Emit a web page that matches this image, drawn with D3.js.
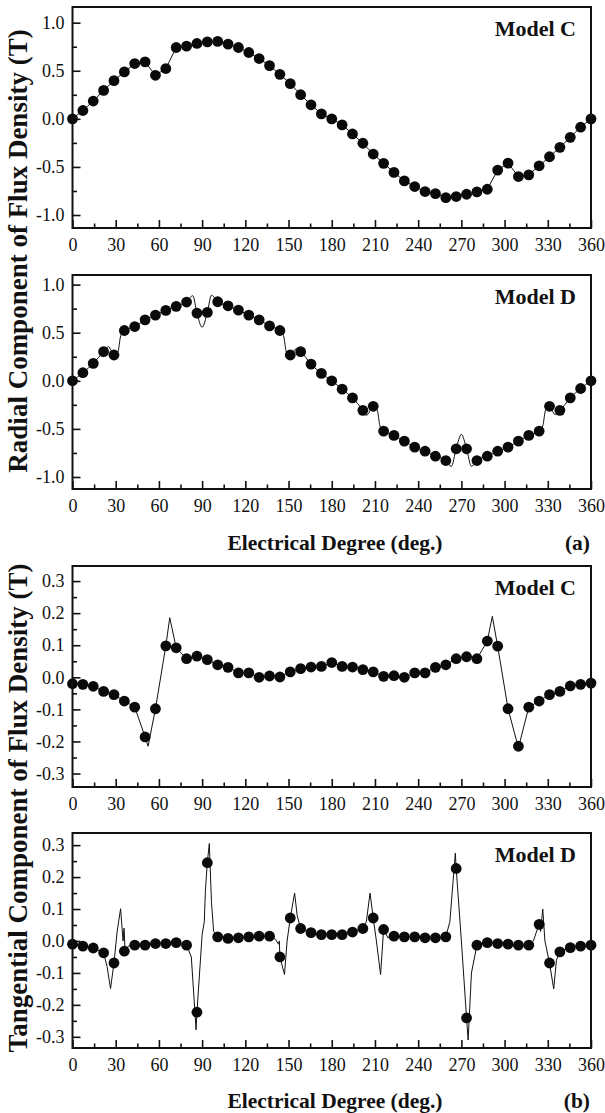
<!DOCTYPE html>
<html>
<head>
<meta charset="utf-8">
<script src="https://cdn.jsdelivr.net/npm/d3@7"></script>
<style>
  body { margin: 0; background: #fff; }
  svg text { font-family: "Liberation Serif", "Times New Roman", "DejaVu Serif", serif; fill: #111; }
</style>
</head>
<body>
<svg id="chart" width="605" height="1113"></svg>
<script>
// ---- data ----
const angles = [0, 7.2, 14.4, 21.6, 28.8, 36, 43.2, 50.4, 57.6, 64.8, 72, 79.2, 86.4, 93.6, 100.8,
  108, 115.2, 122.4, 129.6, 136.8, 144, 151.2, 158.4, 165.6, 172.8, 180, 187.2, 194.4, 201.6,
  208.8, 216, 223.2, 230.4, 237.6, 244.8, 252, 259.2, 266.4, 273.6, 280.8, 288, 295.2, 302.4,
  309.6, 316.8, 324, 331.2, 338.4, 345.6, 352.8, 360];

const xTicks = [0, 30, 60, 90, 120, 150, 180, 210, 240, 270, 300, 330, 360];
const xMinor = [15, 45, 75, 105, 135, 165, 195, 225, 255, 285, 315, 345];
const radialTicks = [-1.0, -0.5, 0.0, 0.5, 1.0];
const radialMinor = [-0.75, -0.25, 0.25, 0.75];
const tanTicks = [-0.3, -0.2, -0.1, 0.0, 0.1, 0.2, 0.3];
const tanMinor = [-0.25, -0.15, -0.05, 0.05, 0.15, 0.25];

// radial, model C (dots)
const radialC = [0, 0.087, 0.185, 0.296, 0.397, 0.488, 0.575, 0.592, 0.453, 0.523, 0.742, 0.756,
  0.784, 0.801, 0.805, 0.777, 0.742, 0.69, 0.627, 0.554, 0.463, 0.366, 0.251, 0.146, 0.052, 0.0,
  -0.063, -0.157, -0.254, -0.366, -0.463, -0.557, -0.645, -0.704, -0.756, -0.777, -0.819, -0.808,
  -0.784, -0.76, -0.732, -0.533, -0.46, -0.6, -0.582, -0.488, -0.394, -0.296, -0.192, -0.087, 0];

// radial, model D (dots)
const radialD = [0, 0.084, 0.181, 0.303, 0.268, 0.523, 0.564, 0.634, 0.683, 0.732, 0.774, 0.819,
  0.704, 0.711, 0.822, 0.78, 0.735, 0.683, 0.634, 0.571, 0.523, 0.268, 0.303, 0.174, 0.077, 0,
  -0.087, -0.178, -0.307, -0.265, -0.523, -0.568, -0.627, -0.69, -0.732, -0.784, -0.829, -0.707,
  -0.707, -0.829, -0.784, -0.732, -0.69, -0.627, -0.568, -0.523, -0.265, -0.307, -0.178, -0.08, 0];

// radial, model D (fine curve)
const radialDLine = [[0, 0], [7.2, 0.084], [14.4, 0.181], [21.6, 0.303], [25, 0.355], [28.8, 0.268],
  [31.5, 0.30], [33.5, 0.47], [36, 0.523], [43.2, 0.564], [50.4, 0.634], [57.6, 0.683], [64.8, 0.732],
  [72, 0.774], [79.2, 0.819], [83.5, 0.885], [86.4, 0.704], [90, 0.557], [93.6, 0.711], [96.5, 0.89],
  [100.8, 0.822], [108, 0.78], [115.2, 0.735], [122.4, 0.683], [129.6, 0.634], [136.8, 0.571],
  [144, 0.523], [146.5, 0.47], [148.5, 0.30], [151.2, 0.268], [155, 0.33], [158.4, 0.303],
  [165.6, 0.174], [172.8, 0.077], [180, 0], [187.2, -0.087], [194.4, -0.178], [201.6, -0.307],
  [204, -0.36], [208.8, -0.265], [211.5, -0.30], [213.5, -0.47], [216, -0.523], [223.2, -0.568],
  [230.4, -0.627], [237.6, -0.69], [244.8, -0.732], [252, -0.784], [259.2, -0.829], [263, -0.89],
  [266.4, -0.707], [270, -0.557], [273.6, -0.707], [277, -0.89], [280.8, -0.829], [288, -0.784],
  [295.2, -0.732], [302.4, -0.69], [309.6, -0.627], [316.8, -0.568], [324, -0.523], [326.5, -0.47],
  [328.5, -0.30], [331.2, -0.265], [335, -0.35], [338.4, -0.307], [345.6, -0.178], [352.8, -0.08],
  [360, 0]];

// tangential, model C (dots)
const tanC = [-0.02, -0.022, -0.028, -0.044, -0.054, -0.074, -0.093, -0.186, -0.098, 0.098, 0.092,
  0.058, 0.066, 0.055, 0.039, 0.031, 0.014, 0.014, 0.0, 0.004, 0.001, 0.017, 0.027, 0.032, 0.034,
  0.046, 0.034, 0.032, 0.024, 0.017, 0.003, 0.005, 0.0, 0.014, 0.014, 0.031, 0.039, 0.058, 0.064,
  0.058, 0.113, 0.097, -0.098, -0.215, -0.093, -0.074, -0.054, -0.044, -0.027, -0.022, -0.018];

// tangential, model C (fine curve)
const tanCLine = [[0, -0.02], [7.2, -0.022], [14.4, -0.028], [21.6, -0.044], [28.8, -0.054],
  [36, -0.074], [43.2, -0.093], [50.4, -0.186], [52.5, -0.215], [57.6, -0.098], [64.8, 0.098],
  [67.5, 0.186], [72, 0.092], [79.2, 0.058], [86.4, 0.066], [93.6, 0.055], [100.8, 0.039],
  [108, 0.031], [115.2, 0.014], [122.4, 0.014], [129.6, 0.0], [136.8, 0.004], [144, 0.001],
  [151.2, 0.017], [158.4, 0.027], [165.6, 0.032], [172.8, 0.034], [180, 0.046], [187.2, 0.034],
  [194.4, 0.032], [201.6, 0.024], [208.8, 0.017], [216, 0.003], [223.2, 0.005], [230.4, 0.0],
  [237.6, 0.014], [244.8, 0.014], [252, 0.031], [259.2, 0.039], [266.4, 0.058], [273.6, 0.064],
  [280.8, 0.058], [288, 0.113], [291.5, 0.19], [295.2, 0.097], [302.4, -0.098], [309.6, -0.22],
  [316.8, -0.093], [324, -0.074], [331.2, -0.054], [338.4, -0.044], [345.6, -0.027],
  [352.8, -0.022], [360, -0.018]];

// tangential, model D (dots)
const tanD = [-0.01, -0.016, -0.022, -0.037, -0.069, -0.032, -0.013, -0.013, -0.008, -0.008,
  -0.005, -0.013, -0.223, 0.245, 0.013, 0.008, 0.010, 0.013, 0.015, 0.015, -0.05, 0.072, 0.039,
  0.026, 0.02, 0.02, 0.02, 0.028, 0.039, 0.072, 0.036, 0.015, 0.013, 0.013, 0.010, 0.010, 0.013,
  0.227, -0.241, -0.013, -0.005, -0.008, -0.01, -0.013, -0.013, 0.052, -0.069, -0.034, -0.021,
  -0.016, -0.013];

// tangential, model D (fine curve)
const tanDLine = [[0, -0.01], [7.2, -0.016], [14.4, -0.022], [21.6, -0.037], [24, -0.08],
  [26.4, -0.149], [28.8, -0.069], [31, 0.03], [33.4, 0.101], [35.1, 0.0], [35.8, 0.04],
  [36.5, -0.03], [39, -0.015], [43.2, -0.013], [50.4, -0.013], [57.6, -0.008], [64.8, -0.008],
  [72, -0.005], [79.2, -0.013], [82.5, -0.05], [85.8, -0.278], [86.4, -0.223], [90, 0.02],
  [91.5, 0.06], [92.3, 0.16], [93.6, 0.245], [95, 0.305], [96.5, 0.12], [98, 0.03], [100.8, 0.013],
  [108, 0.008], [115.2, 0.010], [122.4, 0.013], [129.6, 0.015], [136.8, 0.015], [141, 0.005],
  [143, -0.01], [143.6, 0.0], [144, -0.05], [147.2, -0.105], [149, 0.0], [151.2, 0.072],
  [154.2, 0.15], [156, 0.08], [158.4, 0.039], [165.6, 0.026], [172.8, 0.02], [180, 0.02],
  [187.2, 0.02], [194.4, 0.028], [201.6, 0.039], [204, 0.06], [206.6, 0.15], [208.8, 0.072],
  [211, 0.0], [213.9, -0.105], [216, 0.036], [219, 0.01], [223.2, 0.015], [230.4, 0.013],
  [237.6, 0.013], [244.8, 0.010], [252, 0.010], [259.2, 0.013], [262, 0.06], [265.8, 0.275],
  [266.4, 0.227], [270, 0.0], [273.6, -0.241], [274.7, -0.31], [277, -0.1], [280.8, -0.013],
  [288, -0.005], [295.2, -0.008], [302.4, -0.01], [309.6, -0.013], [316.8, -0.013], [320, 0.0],
  [323, 0.04], [324, 0.052], [325, 0.03], [326.5, 0.1], [328, 0.0], [331.2, -0.069],
  [334.1, -0.15], [336, -0.06], [338.4, -0.034], [345.6, -0.021], [352.8, -0.016], [360, -0.013]];

// ---- layout ----
const SERIF = "'Liberation Serif', 'Times New Roman', 'DejaVu Serif', serif";
const svg = d3.select("#chart");
const x = d3.scaleLinear().domain([0, 360]).range([72.5, 591]);
const fmt = d => d.toFixed(1);

const panels = [
  { top: 7, bottom: 228, domain: [-1.135, 1.163], ticks: radialTicks, minor: radialMinor,
    dots: radialC, line: angles.map((a, i) => [a, radialC[i]]), curve: d3.curveLinear, label: "Model C" },
  { top: 275, bottom: 489, domain: [-1.125, 1.10], ticks: radialTicks, minor: radialMinor,
    dots: radialD, line: radialDLine, curve: d3.curveMonotoneX, label: "Model D" },
  { top: 566, bottom: 787, domain: [-0.342, 0.347], ticks: tanTicks, minor: tanMinor,
    dots: tanC, line: tanCLine, curve: d3.curveLinear, label: "Model C" },
  { top: 833, bottom: 1048, domain: [-0.335, 0.338], ticks: tanTicks, minor: tanMinor,
    dots: tanD, line: tanDLine, curve: d3.curveLinear, label: "Model D" }
];

panels.forEach(p => {
  const y = d3.scaleLinear().domain(p.domain).range([p.bottom, p.top]);
  const g = svg.append("g");

  // x axis, ticks pointing in
  g.append("g").attr("transform", `translate(0,${p.bottom})`)
    .call(d3.axisBottom(x).tickValues(xTicks).tickSize(-8).tickPadding(10).tickFormat(d3.format("d")))
    .call(a => a.select(".domain").remove());
  g.append("g").attr("transform", `translate(0,${p.bottom})`)
    .call(d3.axisBottom(x).tickValues(xMinor).tickSize(-4.5).tickFormat(""))
    .call(a => a.select(".domain").remove());

  // y axis
  g.append("g").attr("transform", `translate(${x.range()[0]},0)`)
    .call(d3.axisLeft(y).tickValues(p.ticks).tickSize(-8).tickPadding(8).tickFormat(fmt))
    .call(a => a.select(".domain").remove());
  g.append("g").attr("transform", `translate(${x.range()[0]},0)`)
    .call(d3.axisLeft(y).tickValues(p.minor).tickSize(-4.5).tickFormat(""))
    .call(a => a.select(".domain").remove());

  g.selectAll("g").attr("font-family", SERIF).attr("font-size", 18);
  g.selectAll(".tick line").attr("stroke", "#111").attr("stroke-width", 1.6);

  // curve
  g.append("path")
    .datum(p.line)
    .attr("fill", "none")
    .attr("stroke", "#111")
    .attr("stroke-width", 1)
    .attr("d", d3.line().x(d => x(d[0])).y(d => y(d[1])).curve(p.curve));

  // dots
  g.selectAll("circle")
    .data(p.dots)
    .join("circle")
    .attr("cx", (d, i) => x(angles[i]))
    .attr("cy", d => y(d))
    .attr("r", 5.4)
    .attr("fill", "#0a0a0a");

  // frame
  g.append("rect")
    .attr("x", x.range()[0]).attr("y", p.top)
    .attr("width", x.range()[1] - x.range()[0]).attr("height", p.bottom - p.top)
    .attr("fill", "none").attr("stroke", "#111").attr("stroke-width", 2);

  g.append("text")
    .attr("x", 576).attr("y", p.top + 29)
    .attr("text-anchor", "end")
    .attr("font-family", SERIF)
    .style("font-size", "22px").style("font-weight", "bold")
    .text(p.label);
});

// axis titles
[[550, "(a)"], [1108, "(b)"]].forEach(([yy, tag]) => {
  svg.append("text").attr("x", 335).attr("y", yy).attr("text-anchor", "middle")
    .attr("font-family", SERIF)
    .style("font-size", "21.5px").style("font-weight", "bold").text("Electrical Degree (deg.)");
  svg.append("text").attr("x", 590).attr("y", yy).attr("text-anchor", "end")
    .attr("font-family", SERIF)
    .style("font-size", "21.5px").style("font-weight", "bold").text(tag);
});

[[251, "Radial Component of Flux Density (T)"], [808, "Tangential Component of Flux Density (T)"]]
  .forEach(([cy, t]) => {
    svg.append("text")
      .attr("transform", `translate(27,${cy}) rotate(-90)`)
      .attr("text-anchor", "middle")
      .attr("font-family", SERIF)
      .style("font-size", "27px").style("font-weight", "bold")
      .text(t);
  });
</script>
</body>
</html>
